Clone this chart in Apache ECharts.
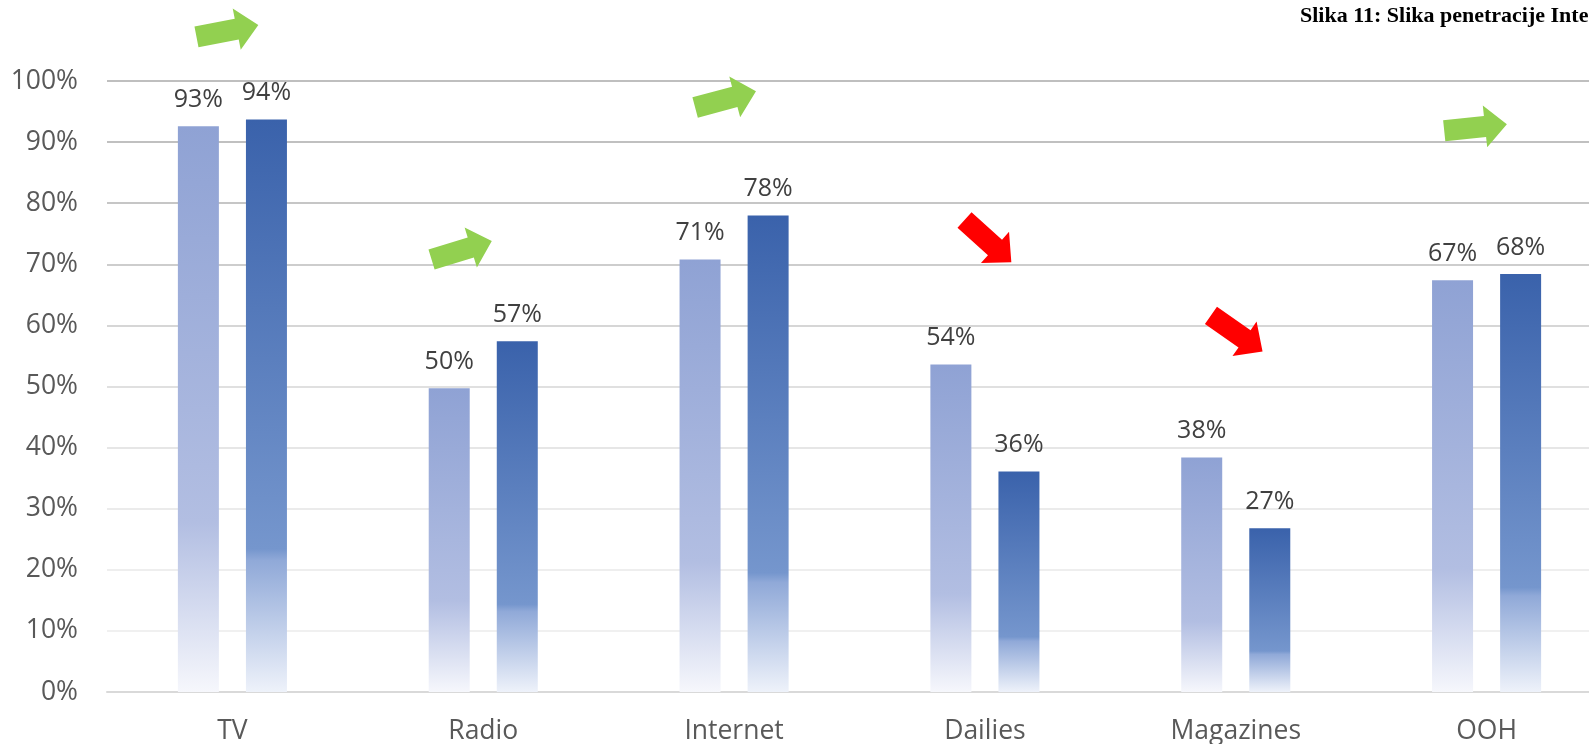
<!DOCTYPE html>
<html>
<head>
<meta charset="utf-8">
<script src="https://cdn.jsdelivr.net/npm/echarts@6/dist/echarts.min.js"></script>
<style>
  html, body { margin: 0; padding: 0; background: #ffffff; overflow: hidden; }
  #chart { width: 1589px; height: 744px; }
</style>
</head>
<body>
<div id="chart"></div>
<script>
// ---- data ----
const titleText = 'Slika 11: Slika penetracije Internet';
const categories = ['TV', 'Radio', 'Internet', 'Dailies', 'Magazines', 'OOH'];
const seriesPrev = [92.6, 49.7, 70.8, 53.6, 38.4, 67.4];
const seriesCurr = [93.7, 57.4, 78.0, 36.1, 26.8, 68.4];
const yTicks = [0, 10, 20, 30, 40, 50, 60, 70, 80, 90, 100];
// trend arrows: category index, category offset (fraction of band), value level, direction (1 = up, -1 = down)
const arrowCat    = [0, 1, 2, 3, 4, 5];
const arrowOffset = [-0.02, -0.086, -0.034, 0.012, 0.004, -0.044];
const arrowLevel  = [108.2, 72.3, 97.0, 73.8, 58.7, 92.4];
const arrowDir    = [1, 1, 1, -1, -1, 1];
const arrowAngle  = [11, 17, 15, -42, -35, 6];

const FONT = "'Open Sans', 'Noto Sans', sans-serif";
const chart = echarts.init(document.getElementById('chart'), null, { renderer: 'canvas' });

const gridColors = ['#d9d9d9', '#f0f0f0', '#eeeeee', '#ebebeb', '#e6e6e6', '#e0e0e0',
                    '#d6d6d6', '#cdcdcd', '#c6c6c6', '#c0c0c0', '#bfbfbf'];

const lightGrad = new echarts.graphic.LinearGradient(0, 0, 0, 1, [
  { offset: 0, color: '#8fa2d4' },
  { offset: 0.7, color: '#b2bee2' },
  { offset: 1, color: '#f6f7fc' }
]);
const darkGrad = new echarts.graphic.LinearGradient(0, 0, 0, 1, [
  { offset: 0, color: '#3a62ab' },
  { offset: 0.75, color: '#7596cd' },
  { offset: 0.77, color: '#90a9d8' },
  { offset: 1, color: '#eef2fa' }
]);

const arrowData = arrowCat.map((c, i) => [c, arrowLevel[i], arrowOffset[i], arrowDir[i], arrowAngle[i]]);

function arrowPoints(cx, cy, angleDeg) {
  // arrow pointing right in local coords
  const L = 63, shaftLen = 41, sw = 10.5, hw = 21;
  const x0 = -L / 2, xb = x0 + shaftLen, xt = L / 2;
  const pts = [[x0, -sw], [xb, -sw], [xb, -hw], [xt, 0], [xb, hw], [xb, sw], [x0, sw]];
  const a = -angleDeg * Math.PI / 180;
  const ca = Math.cos(a), sa = Math.sin(a);
  return pts.map(p => [cx + p[0] * ca - p[1] * sa, cy + p[0] * sa + p[1] * ca]);
}

const labelFmt = p => Math.round(p.value) + '%';

chart.setOption({
  animation: false,
  backgroundColor: '#ffffff',
  title: {
    text: titleText,
    left: 1300,
    top: 5,
    padding: 0,
    textStyle: { fontFamily: "'Liberation Serif', 'Times New Roman', serif", fontWeight: 'bold', fontSize: 22, color: '#000000' }
  },
  grid: { left: 107, width: 1505, top: 81, bottom: 52, containLabel: false, outerBoundsMode: 'none' },
  xAxis: {
    type: 'category',
    data: categories,
    axisTick: { show: false },
    axisLine: { lineStyle: { color: '#d9d9d9', width: 2 } },
    axisLabel: { color: '#595959', fontFamily: FONT, fontSize: 26.5, margin: 26 }
  },
  yAxis: {
    type: 'value',
    min: yTicks[0],
    max: yTicks[yTicks.length - 1],
    interval: 10,
    axisLine: { show: false },
    axisTick: { show: false },
    axisLabel: { color: '#595959', fontFamily: FONT, fontSize: 26.5, margin: 29, formatter: '{value}%' },
    splitLine: { lineStyle: { color: gridColors, width: 2 } }
  },
  series: [
    {
      type: 'bar',
      data: seriesPrev,
      barWidth: 41,
      barGap: '66%',
      itemStyle: { color: lightGrad },
      label: { show: true, position: 'top', distance: 14, formatter: labelFmt, color: '#404040', fontFamily: FONT, fontSize: 25 }
    },
    {
      type: 'bar',
      data: seriesCurr,
      barWidth: 41,
      barGap: '66%',
      itemStyle: { color: darkGrad },
      label: { show: true, position: 'top', distance: 14, formatter: labelFmt, color: '#404040', fontFamily: FONT, fontSize: 25 }
    },
    {
      type: 'custom',
      clip: false,
      silent: true,
      z: 5,
      data: arrowData,
      renderItem: function (params, api) {
        const c = api.coord([api.value(0), api.value(1)]);
        const band = api.size([1, 0])[0];
        const cx = c[0] + api.value(2) * band;
        const cy = c[1];
        const dir = api.value(3);
        const ang = api.value(4);
        return {
          type: 'polygon',
          shape: { points: arrowPoints(cx, cy, ang) },
          style: { fill: dir > 0 ? '#92d050' : '#ff0000', stroke: null }
        };
      }
    }
  ]
});
</script>
</body>
</html>
